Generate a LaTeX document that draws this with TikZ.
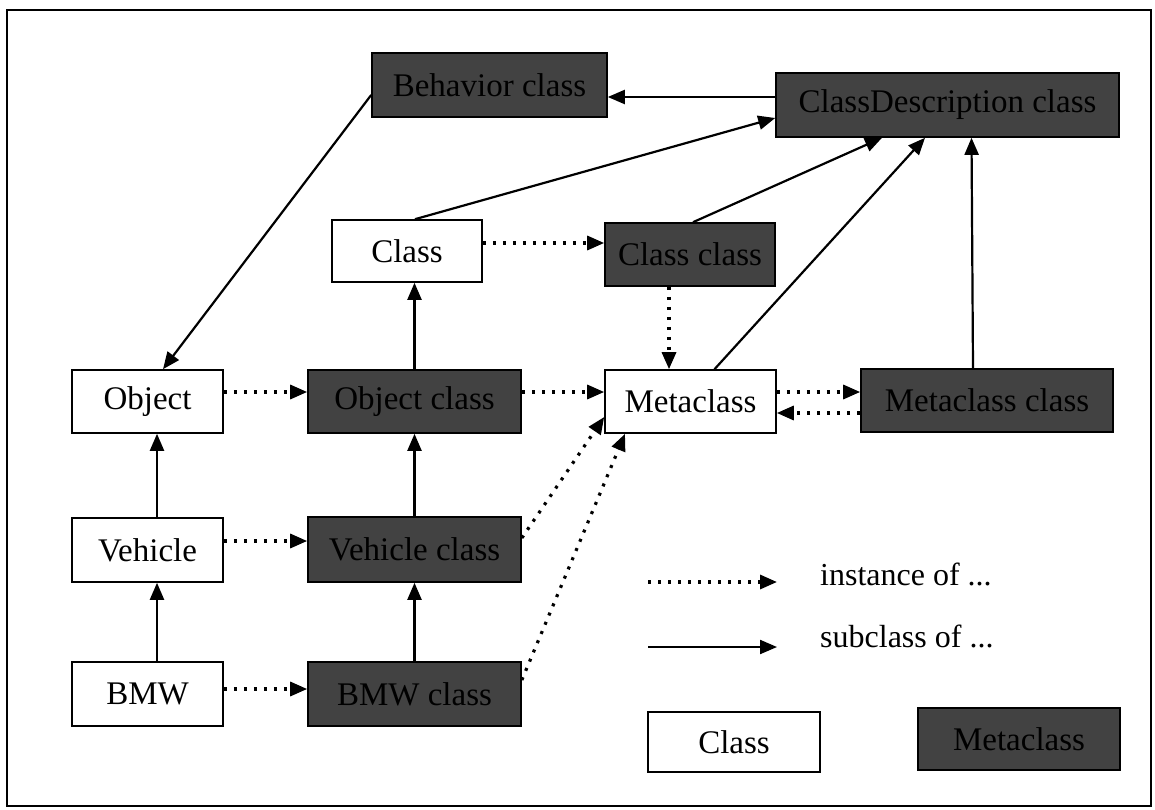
\documentclass[tikz,border=0pt]{standalone}
\usepackage{fontspec}
\setmainfont{Liberation Serif}
\usetikzlibrary{arrows.meta}
\tikzset{
  box/.style={draw=black, line width=1.6pt, fill=white, inner sep=0pt,
    font=\fontsize{33}{38}\selectfont},
  metabox/.style={box, fill=black!74, text=black},
  sub/.style={line width=2.2pt, -{Triangle[length=17pt,width=14pt]}},
  inst/.style={line width=3.2pt, dash pattern=on 3pt off 7pt,
    -{Triangle[length=17pt,width=14pt]}},
  legtext/.style={anchor=base west, inner sep=0pt, font=\fontsize{32}{38}\selectfont}
}
\begin{document}
\begin{tikzpicture}[x=1pt,y=-1pt]
  \useasboundingbox (0,0) rectangle (1155,810);
  \draw[line width=2.2pt] (7,10) rectangle (1151,806);

  % metaclass-level boxes
  \node[metabox, minimum width=235pt, minimum height=64pt] (beh) at (489.5,85) {Behavior class};
  \node[metabox, minimum width=343pt, minimum height=64pt] (cd) at (947.5,105) {ClassDescription class};
  \node[metabox, minimum width=170pt, minimum height=63pt] (clscls) at (690,254.5) {Class class};
  \node[metabox, minimum width=213pt, minimum height=63pt] (objcls) at (414.5,401.5) {Object class};
  \node[metabox, minimum width=252pt, minimum height=63pt] (metacls) at (987,400.5) {Metaclass class};
  \node[metabox, minimum width=213pt, minimum height=65pt] (vehcls) at (414.5,549.5) {Vehicle class};
  \node[metabox, minimum width=213pt, minimum height=64pt] (bmwcls) at (414.5,694) {BMW class};

  % class-level boxes
  \node[box, minimum width=150pt, minimum height=62pt] (cls) at (407,251) {Class};
  \node[box, minimum width=151pt, minimum height=63pt] (obj) at (147.5,401.5) {Object};
  \node[box, minimum width=171pt, minimum height=63pt] (meta) at (690.5,401.5) {Metaclass};
  \node[box, minimum width=151pt, minimum height=64pt] (veh) at (147.5,550) {Vehicle};
  \node[box, minimum width=151pt, minimum height=64pt] (bmw) at (147.5,694) {BMW};

  % subclass relations
  \draw[sub] ([yshift=8pt]cd.west) -- ([yshift=-12pt]beh.east);
  \draw[sub] ([yshift=-10pt]beh.west) -- ([xshift=15.5pt]obj.north);
  \draw[sub] ([xshift=8pt]cls.north) -- ([yshift=-13pt]cd.west);
  \draw[sub] ([xshift=3pt]clscls.north) -- ([xshift=-65.5pt]cd.south);
  \draw[sub] ([xshift=24pt]meta.north) -- ([xshift=-22.5pt]cd.south);
  \draw[sub] ([xshift=-14pt]metacls.north) -- ([xshift=24pt]cd.south);
  \draw[sub] (objcls.north) -- (objcls.north |- cls.south);
  \draw[sub] (vehcls.north) -- (objcls.south);
  \draw[sub] (bmwcls.north) -- (vehcls.south);
  \draw[sub] ([xshift=9.5pt]veh.north) -- ([xshift=9.5pt]obj.south);
  \draw[sub] ([xshift=9.5pt]bmw.north) -- ([xshift=9.5pt]veh.south);

  % instance relations
  \draw[inst] ([yshift=9.5pt]obj.east) -- ([yshift=9.5pt]objcls.west);
  \draw[inst] ([yshift=9pt]veh.east) -- ([yshift=8.5pt]vehcls.west);
  \draw[inst] ([yshift=5pt]bmw.east) -- ([yshift=5pt]bmwcls.west);
  \draw[inst] ([yshift=9.5pt]objcls.east) -- ([yshift=9.5pt]meta.west);
  \draw[inst] ([yshift=8pt]cls.east) -- ([yshift=11.5pt]clscls.west);
  \draw[inst] ([xshift=-21pt]clscls.south) -- ([xshift=-21.5pt]meta.north);
  \draw[inst] ([yshift=9.5pt]meta.east) -- ([yshift=8.5pt]metacls.west);
  \draw[inst] ([yshift=-12.5pt]metacls.west) -- ([yshift=-11.5pt]meta.east);
  \draw[inst] ([yshift=11.5pt]vehcls.east) -- ([yshift=-15.5pt]meta.west);
  \draw[inst] ([yshift=14pt]bmwcls.east) -- ([xshift=-65.5pt]meta.south);

  % legend
  \coordinate (li0) at (648,582);
  \coordinate (li1) at (777,582);
  \coordinate (ls0) at (648,647);
  \coordinate (ls1) at (777,647);
  \draw[inst] (li0) -- (li1);
  \draw[sub] (ls0) -- (ls1);
  \node[legtext] (tinst) at (820,585) {instance of ...};
  \node[legtext] (tsub) at (820,647) {subclass of ...};
  \node[box, minimum width=172pt, minimum height=60pt] (lgcls) at (734,742) {Class};
  \node[metabox, minimum width=202pt, minimum height=62pt] (lgmeta) at (1019,739) {Metaclass};
\end{tikzpicture}
\end{document}
